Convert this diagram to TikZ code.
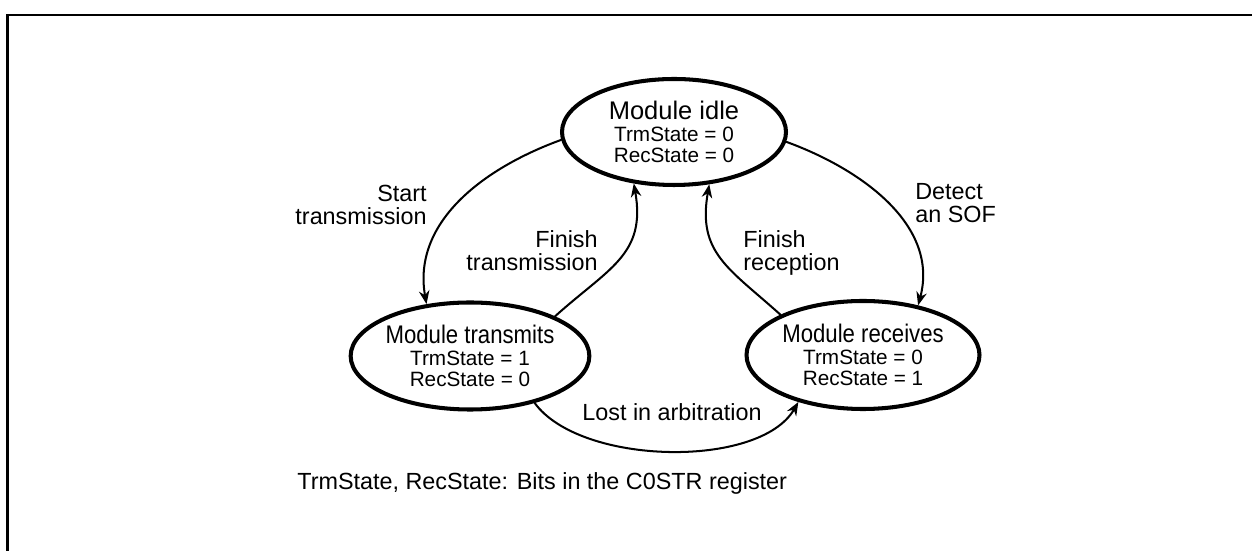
\documentclass[tikz,border=0pt]{standalone}
\usepackage{fontspec}
\setmainfont{Liberation Sans}
\usepackage{graphicx}
\usetikzlibrary{arrows.meta,shapes.geometric}

\newcommand{\statetitle}[1]{{\fontsize{14.5}{16}\selectfont #1}}
\newcommand{\narrowtitle}[1]{\statetitle{\scalebox{0.87}[1]{#1}}}

\begin{document}
\begin{tikzpicture}[x=0.2mm,y=0.2mm,>={Stealth[length=2.7mm,width=2.1mm]},line cap=round,
  state/.style={ellipse,draw,line width=2.3pt,inner sep=0pt,align=center,
    font=\fontsize{11.8}{12.2}\selectfont},
  edge/.style={->,line width=1.15pt},
  lbl/.style={font=\fontsize{13.3}{13}\selectfont,inner sep=0pt}]
\useasboundingbox (0,0) rectangle (1252,551);
\draw[line width=1.4pt,line cap=butt] (7.5,0) -- (7.5,536) -- (1252,536);

% states
\node[state,minimum width=44.8mm,minimum height=21.2mm] (idle) at (674,419)
  {\statetitle{Module idle}\\TrmState = 0\\RecState = 0};
\node[state,minimum width=42.2mm,minimum height=21.4mm] (trm) at (470,195)
  {\narrowtitle{Module transmits}\\TrmState = 1\\RecState = 0};
\node[state,minimum width=46.6mm,minimum height=21.6mm] (rec) at (863,196)
  {\narrowtitle{Module receives}\\TrmState = 0\\RecState = 1};

% transitions
\draw[edge] (idle.184) to[out=200,in=100] (trm.130);
\draw[edge] (trm.25) to[out=42,in=-80,looseness=1.2] (idle.232);
\draw[edge] (rec.154) to[out=138,in=-100,looseness=1.2] (idle.304);
\draw[edge] (idle.-5) to[out=-20,in=75] (rec.42);
\draw[edge] (trm.-36) to[out=-54,in=240,looseness=0.75] (rec.216);

\node[lbl,align=right,anchor=north east] (lstart) at (427,366) {Start\\transmission};
\node[lbl,align=right,anchor=north east] (lfintrm) at (598,321) {Finish\\transmission};
\node[lbl,align=left,anchor=north west] (lfinrec) at (743,321) {Finish\\reception};
\node[lbl,align=left,anchor=north west] (lsof) at (915,368) {Detect\\an SOF};
\node[lbl,anchor=north] (llost) at (672,148) {Lost in arbitration};

\node[lbl,anchor=north west] (note) at (297,79) {TrmState, RecState: Bits in the C0STR register};
\end{tikzpicture}
\end{document}
